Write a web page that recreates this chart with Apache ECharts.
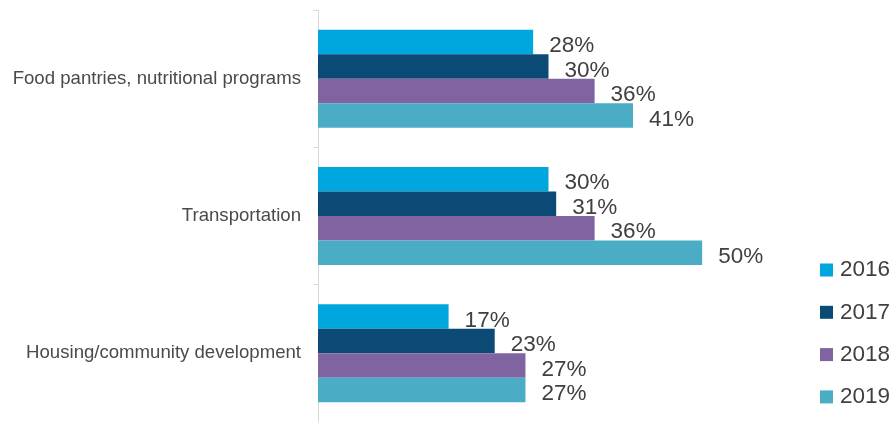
<!DOCTYPE html>
<html>
<head>
<meta charset="utf-8">
<script src="https://cdn.jsdelivr.net/npm/echarts@6/dist/echarts.min.js"></script>
<style>
  html, body { margin: 0; padding: 0; background: #ffffff; }
  #chart { width: 896px; height: 422px; }
</style>
</head>
<body>
<div id="chart"></div>
<script>
// Share of respondents by program area and survey year (percent)
const categories = [
  'Food pantries, nutritional programs',
  'Transportation',
  'Housing/community development'
];
const years = ['2016', '2017', '2018', '2019'];
const values2016 = [28, 30, 17];
const values2017 = [30, 31, 23];
const values2018 = [36, 36, 27];
const values2019 = [41, 50, 27];
const seriesValues = [values2016, values2017, values2018, values2019];
const seriesColors = ['#00a7df', '#0b4a75', '#8064a2', '#4aacc5'];

const chart = echarts.init(document.getElementById('chart'), null, { renderer: 'canvas' });

const series = years.map((year, i) => ({
  name: year,
  type: 'bar',
  data: seriesValues[i],
  barGap: '0%',
  barCategoryGap: '28.6%',
  itemStyle: { color: seriesColors[i] },
  label: {
    show: true,
    position: 'right',
    distance: 16,
    offset: [0, 4],
    formatter: '{c}%',
    color: '#404040',
    fontFamily: 'Liberation Sans, Arial, sans-serif',
    fontSize: 22.5
  },
  emphasis: { disabled: true },
  animation: false
}));

chart.setOption({
  animation: false,
  grid: { left: 318, top: 10, width: 461, bottom: 0 },
  xAxis: {
    type: 'value',
    min: 0,
    max: 60,
    show: false
  },
  yAxis: {
    type: 'category',
    data: categories,
    inverse: true,
    axisLine: { show: true, lineStyle: { color: '#d9d9d9', width: 1 } },
    axisTick: { show: true, length: 5, lineStyle: { color: '#d9d9d9' } },
    axisLabel: {
      margin: 17,
      color: '#4a4a4a',
      fontFamily: 'Liberation Sans, Arial, sans-serif',
      fontSize: 18.6
    },
    splitLine: { show: false }
  },
  legend: {
    orient: 'vertical',
    left: 820,
    top: 258,
    padding: 0,
    itemWidth: 13,
    itemHeight: 13,
    itemGap: 18.3,
    icon: 'rect',
    data: years,
    textStyle: {
      color: '#404040',
      fontFamily: 'Liberation Sans, Arial, sans-serif',
      fontSize: 22.5,
      lineHeight: 24,
      padding: [0, 0, 0, 2]
    },
    selectedMode: false
  },
  series: series
});
</script>
</body>
</html>
